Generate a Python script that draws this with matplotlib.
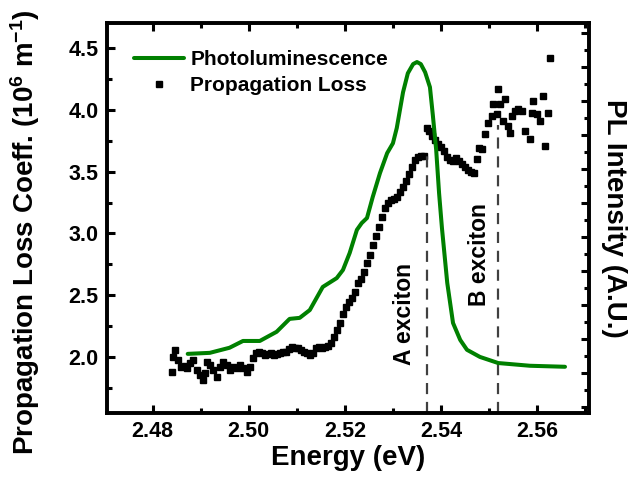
import matplotlib
matplotlib.use("Agg")
import matplotlib.pyplot as plt
from matplotlib.ticker import MultipleLocator, NullFormatter

plt.rcParams["font.family"] = ["Liberation Sans", "DejaVu Sans"]
plt.rcParams["font.weight"] = "bold"
plt.rcParams["mathtext.fontset"] = "custom"
plt.rcParams["mathtext.rm"] = "Liberation Sans:bold"
plt.rcParams["mathtext.default"] = "rm"

# Propagation loss coefficient (10^6 m^-1) versus photon energy (eV)
loss_energy = [
    2.4840, 2.4842, 2.4846, 2.4852, 2.4860, 2.4867, 2.4871, 2.4877, 2.4883, 2.4892,
    2.4898, 2.4904, 2.4908, 2.4913, 2.4919, 2.4925, 2.4933, 2.4940, 2.4946, 2.4954,
    2.4960, 2.4967, 2.4975, 2.4981, 2.4988, 2.4996, 2.5002, 2.5008, 2.5015, 2.5021,
    2.5027, 2.5033, 2.5040, 2.5046, 2.5052, 2.5058, 2.5065, 2.5071, 2.5077, 2.5083,
    2.5090, 2.5096, 2.5102, 2.5108, 2.5115, 2.5121, 2.5127, 2.5133, 2.5140, 2.5146,
    2.5152, 2.5158, 2.5165, 2.5171, 2.5177, 2.5183, 2.5190, 2.5196, 2.5202, 2.5208,
    2.5215, 2.5221, 2.5227, 2.5233, 2.5240, 2.5246, 2.5252, 2.5258, 2.5265, 2.5271,
    2.5277, 2.5283, 2.5290, 2.5296, 2.5302, 2.5308, 2.5315, 2.5321, 2.5327, 2.5333,
    2.5340, 2.5346, 2.5352, 2.5358, 2.5365, 2.5371, 2.5375, 2.5381, 2.5388, 2.5394,
    2.5400, 2.5406, 2.5413, 2.5419, 2.5425, 2.5431, 2.5438, 2.5444, 2.5450, 2.5456,
    2.5463, 2.5469, 2.5475, 2.5479, 2.5485, 2.5492, 2.5498, 2.5506, 2.5508, 2.5517,
    2.5519, 2.5523, 2.5529, 2.5533, 2.5540, 2.5544, 2.5548, 2.5554, 2.5560, 2.5569,
    2.5575, 2.5585, 2.5590, 2.5592, 2.5600, 2.5606, 2.5613, 2.5617, 2.5623, 2.5627,
]
loss_coeff = [
    1.879, 2.000, 2.056, 1.976, 1.919, 1.927, 1.911, 1.952, 1.976, 1.895,
    1.855, 1.815, 1.871, 1.960, 1.935, 1.895, 1.839, 1.919, 1.960, 1.935,
    1.895, 1.919, 1.911, 1.935, 1.911, 1.879, 1.919, 1.992, 2.032, 2.040,
    2.032, 2.016, 2.024, 2.032, 2.016, 2.024, 2.032, 2.040, 2.040, 2.065,
    2.081, 2.073, 2.073, 2.056, 2.040, 2.032, 2.016, 2.032, 2.073, 2.081,
    2.073, 2.081, 2.089, 2.113, 2.161, 2.218, 2.274, 2.347, 2.403, 2.444,
    2.476, 2.524, 2.597, 2.629, 2.685, 2.758, 2.823, 2.903, 2.976, 3.056,
    3.129, 3.202, 3.250, 3.274, 3.282, 3.298, 3.331, 3.379, 3.427, 3.484,
    3.540, 3.597, 3.621, 3.629, 3.629, 3.855, 3.831, 3.790, 3.758, 3.726,
    3.702, 3.669, 3.621, 3.597, 3.589, 3.613, 3.589, 3.565, 3.540, 3.516,
    3.500, 3.492, 3.605, 3.694, 3.685, 3.806, 3.895, 3.952, 4.048, 3.968,
    4.169, 4.048, 3.911, 4.089, 3.871, 3.815, 3.952, 3.992, 4.008, 3.992,
    3.831, 3.766, 3.976, 4.073, 3.968, 3.911, 4.113, 3.710, 3.976, 4.419,
]

# Photoluminescence spectrum (arbitrary units)
pl_energy = [
    2.4873, 2.4919, 2.4960, 2.4988, 2.5023, 2.5058, 2.5085, 2.5106, 2.5127, 2.5154,
    2.5183, 2.5196, 2.5210, 2.5225, 2.5235, 2.5246, 2.5258, 2.5273, 2.5288, 2.5300,
    2.5308, 2.5321, 2.5331, 2.5342, 2.5350, 2.5358, 2.5367, 2.5377, 2.5383, 2.5390,
    2.5396, 2.5402, 2.5413, 2.5425, 2.5440, 2.5454, 2.5481, 2.5519, 2.5585, 2.5658,
]
pl_intensity = [
    0.56, 0.59, 0.74, 0.94, 0.94, 1.21, 1.59, 1.62, 1.85, 2.53,
    2.79, 3.03, 3.53, 4.21, 4.41, 4.56, 5.18, 5.88, 6.47, 6.76,
    7.21, 8.26, 8.82, 9.09, 9.15, 9.09, 8.85, 8.41, 7.59, 6.56,
    5.29, 4.26, 2.65, 1.47, 0.97, 0.68, 0.47, 0.29, 0.21, 0.18,
]

# Exciton resonances: energy and top of the marker line (loss units)
exciton_names = ["A exciton", "B exciton"]
exciton_energy = [2.5371, 2.5519]
exciton_top = [3.63, 3.88]

fig = plt.figure(figsize=(6.39, 4.91), dpi=100)
ax = fig.add_axes([0.1674, 0.1589, 0.7544, 0.7943])
ax2 = ax.twinx()

green = "#008000"
pl_line, = ax2.plot(pl_energy, pl_intensity, color=green, lw=2.9,
                    solid_joinstyle="round", solid_capstyle="round")
loss_pts, = ax.plot(loss_energy, loss_coeff, ls="none", marker="s", ms=5.0,
                    color="black", mec="black")

for name, e, top in zip(exciton_names, exciton_energy, exciton_top):
    ax.plot([e, e], [1.55, top], color="#404040", lw=1.6, dashes=(5, 3.5))
ax.text(2.5325, 2.35, exciton_names[0], rotation=90, ha="center", va="center",
        fontsize=16.5, fontweight="bold")
ax.text(2.5481, 2.83, exciton_names[1], rotation=90, ha="center", va="center",
        fontsize=16.5, fontweight="bold")

ax.set_xlim(2.4705, 2.5708)
ax.set_ylim(1.55, 4.70)
ax2.set_ylim(-1.18, 10.3)

ax.xaxis.set_major_locator(MultipleLocator(0.02))
ax.xaxis.set_minor_locator(MultipleLocator(0.01))
ax.yaxis.set_major_locator(MultipleLocator(0.5))
ax.yaxis.set_minor_locator(MultipleLocator(0.25))
ax.xaxis.set_major_formatter(plt.FuncFormatter(lambda v, p: f"{v:.2f}"))
ax.yaxis.set_major_formatter(plt.FuncFormatter(lambda v, p: f"{v:.1f}"))
ax2.yaxis.set_major_locator(MultipleLocator(1))
ax2.yaxis.set_minor_locator(MultipleLocator(0.5))
ax2.yaxis.set_major_formatter(NullFormatter())

for a in (ax, ax2):
    for s in a.spines.values():
        s.set_linewidth(2.6)
ax.tick_params(which="both", direction="in", width=2.2, top=True, right=False,
               labelsize=15.5, pad=6)
ax.tick_params(which="major", length=5.5)
ax.tick_params(which="minor", length=3.5)
ax2.tick_params(which="both", direction="in", width=2.2)
ax2.tick_params(which="major", length=5.5)
ax2.tick_params(which="minor", length=3.5)

ax.set_xlabel("Energy (eV)", fontsize=20, fontweight="bold", labelpad=2)
ax.set_ylabel("Propagation Loss Coeff. (10$^{6}$ m$^{-1}$)", fontsize=20,
              fontweight="bold")
ax.yaxis.set_label_coords(-0.135, 0.464)
ax2.set_ylabel("PL Intensity (A.U.)", fontsize=20, fontweight="bold",
               rotation=-90, labelpad=24)

ax.legend([pl_line, loss_pts], ["Photoluminescence", "Propagation Loss"],
          loc="upper left", bbox_to_anchor=(0.039, 0.952), frameon=False,
          prop={"size": 15, "weight": "bold"}, handlelength=2.4,
          handletextpad=0.3, labelspacing=0.35, borderaxespad=0)

fig.savefig("out.png", dpi=100)
